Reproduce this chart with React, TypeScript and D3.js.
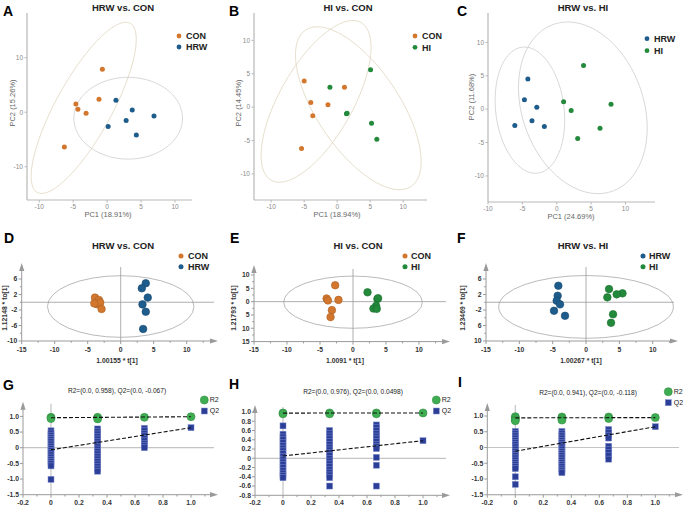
import * as d3 from 'd3';

const FONT = '"Liberation Sans", Arial, Helvetica, sans-serif';
const ORANGE = '#d2772d';
const BLUE = '#1e5c8c';
const GREEN = '#23893b';
const BEIGE = '#e3dac6';
const LGREY = '#d2d2d2';

// ---------- PCA scores (A-C) ----------
const A_CON_X = [-0.7, -4.6, -4.3, -3.1, -1.2, -6.3];
const A_CON_Y = [7.9, 1.5, 0.55, -0.2, 2.4, -6.4];
const A_HRW_X = [1.3, 3.7, 2.8, 0.15, 4.3, 6.9];
const A_HRW_Y = [2.2, 0.4, -1.5, -2.6, -4.2, -0.7];
const B_CON_X = [-5.0, -4.0, -3.7, -1.4, 1.1, -5.4];
const B_CON_Y = [3.9, 0.7, -1.3, 0.35, 3.0, -6.2];
const B_HI_X = [-1.1, 1.4, 1.5, 5.05, 5.2, 6.0];
const B_HI_Y = [3.0, -1.0, -0.9, 5.6, -2.4, -4.8];
const C_HRW_X = [-4.2, -4.7, -2.9, -3.6, -6.1, -1.8];
const C_HRW_Y = [4.5, 1.4, 0.3, -1.75, -2.45, -2.6];
const C_HI_X = [1.0, 2.1, 3.9, 7.9, 6.3, 3.05];
const C_HI_Y = [1.1, -0.2, 6.55, 0.75, -2.85, -4.4];

// ellipses: centre, first semi-axis, second semi-axis (data units)
const A_ELL_CON = [-3.45, 0.8, 6.85, 15.5, 3.6, -2.48];
const A_ELL_HRW = [3.1, -1.1, 8.0, 0, 0, 7.5];
const B_ELL_CON = [-3.2, 0.87, 6.8, 11.8, 4.8, -2.7];
const B_ELL_HI = [3.2, -0.16, 8.0, -11.7, 5.15, 3.45];
const C_ELL_HRW = [-3.9, -0.15, -0.8, 9.45, 5.0, 0];
const C_ELL_HI = [3.8, 0.2, -2.2, 12.85, 9.1, 0];

// ---------- OPLS-DA scores (D-F) ----------
const D_CON_X = [-3.9, -3.3, -3.6, -3.1, -2.9, -4.0];
const D_CON_Y = [1.2, 0.6, -0.5, -0.1, -1.75, -0.3];
const D_HRW_X = [3.8, 3.2, 4.1, 3.3, 3.8, 3.4];
const D_HRW_Y = [4.9, 3.6, 1.2, -0.55, -2.45, -6.9];
const E_CON_X = [-2.7, -4.0, -3.8, -2.2, -3.2, -3.4];
const E_CON_Y = [6.15, 1.2, 0.45, 0.65, -3.2, -5.8];
const E_HI_X = [2.2, 3.7, 3.8, 3.5, 3.1, 3.6];
const E_HI_Y = [3.5, 1.0, 1.3, -1.6, -2.6, -2.7];
const F_HRW_X = [-4.15, -4.25, -4.4, -3.9, -4.8, -3.15];
const F_HRW_Y = [4.26, 1.68, 0.39, -0.54, -2.2, -3.5];
const F_HI_X = [3.45, 5.47, 4.6, 3.2, 4.05, 3.75];
const F_HI_Y = [3.4, 2.3, 2.04, 1.26, -3.1, -5.3];
const D_ELL = [0, -1.1, 11.1, 7.95];
const E_ELL = [0, -0.2, 10.5, 9.8];
const F_ELL = [0, -1.2, 13.1, 8.1];

// ---------- permutation tests (G-I) ----------
const PERM_X = [0, 0.333, 0.667];
const G_Q2 = [
  [0.54, 0.47, 0.40, 0.33, 0.26, 0.19, 0.12, 0.05, -0.02, -0.09, -0.16, -0.23, -0.30, -0.37, -0.44, -0.51, -0.58, -1.01],
  [0.60, 0.52, 0.44, 0.36, 0.28, 0.20, 0.12, 0.04, -0.04, -0.12, -0.20, -0.28, -0.36, -0.44, -0.52, -0.60, -0.68, -0.75],
  [0.62, 0.54, 0.46, 0.38, 0.30, 0.22, 0.14, 0.07, 0.0],
];
const G_R2 = [[0.97, 0.93], [0.97, 0.92], [0.97]];
const H_Q2 = [
  [0.70, 0.52, 0.46, 0.40, 0.34, 0.28, 0.22, 0.16, 0.10, 0.04, -0.02, -0.08, -0.14, -0.20, -0.26, -0.32, -0.37, -0.42],
  [0.60, 0.54, 0.48, 0.42, 0.36, 0.30, 0.24, 0.18, 0.12, 0.06, 0.0, -0.06, -0.12, -0.18, -0.24, -0.30, -0.36, -0.42, -0.60],
  [0.72, 0.66, 0.60, 0.54, 0.48, 0.42, 0.36, 0.30, 0.25, 0.21, 0.02, -0.15, -0.60],
];
const H_R2 = [[0.98, 0.96], [0.98, 0.96], [0.98, 0.96]];
const I_Q2 = [
  [0.51, 0.44, 0.37, 0.30, 0.23, 0.16, 0.09, 0.02, -0.05, -0.12, -0.19, -0.26, -0.33, -0.40, -0.47, -0.54, -0.61, -0.67, -0.93, -1.17],
  [0.51, 0.44, 0.37, 0.30, 0.23, 0.16, 0.09, 0.02, -0.05, -0.12, -0.19, -0.26, -0.33, -0.40, -0.47, -0.54, -0.61, -0.68, -0.74, -0.80],
  [0.57, 0.48, 0.39, 0.30, 0.04, -0.06, -0.16, -0.26, -0.37],
];
const I_R2 = [[0.98, 0.94, 0.88, 0.85], [0.97, 0.92, 0.87], [0.97, 0.92]];
const ORIG_R2 = [0.99, 0.98, 0.95];
const ORIG_Q2 = [0.64, 0.38, 0.66];
const R2_INT = ['0.958', '0.976', '0.941'];
const Q2_INT = ['-0.067', '0.0498', '-0.118'];

const PERM_XTICKS = [-0.2, 0, 0.2, 0.4, 0.6, 0.8, 1.0];
const PERM_XLABELS = ['-0.2', '0', '0.2', '0.4', '0.6', '0.8', '1.0'];
const GI_YTICKS = [1.0, 0.5, 0, -0.5, -1.0, -1.5];
const GI_YLABELS = ['1.0', '0.5', '0', '-0.5', '-1.0', '-1.5'];
const H_YTICKS = [1.0, 0.8, 0.6, 0.4, 0.2, 0, -0.2, -0.4, -0.6, -0.8];
const H_YLABELS = ['1.0', '0.8', '0.6', '0.4', '0.2', '0', '-0.2', '-0.4', '-0.6', '-0.8'];

function ellPath(e: number[], x: any, y: any) {
  const [cx, cy, ax, ay, bx, by] = e;
  const ts = d3.range(0, 2 * Math.PI, Math.PI / 72);
  return d3
    .line<number>()
    .x((t) => x(cx + ax * Math.cos(t) + bx * Math.sin(t)))
    .y((t) => y(cy + ay * Math.cos(t) + by * Math.sin(t)))
    .curve(d3.curveLinearClosed)(ts) || '';
}

const PCA = [
  {
    letter: 'A', letterX: 3, title: 'HRW vs. CON', titleX: 123,
    xDomain: [-11.8, 12.5], xRange: [27, 192], yDomain: [-16.1, 18.2], yRange: [200, 13],
    xTicks: [-10, -5, 0, 5, 10], yTicks: [-10, 0, 10],
    xLabel: 'PC1 (18.91%)', xLabelX: 108, yLabel: 'PC2 (15.26%)', yLabelX: 12, yLabelY: 103,
    legendX: 179, legendY: 36, legendGap: 11,
    groups: [
      { name: 'CON', xs: A_CON_X, ys: A_CON_Y, color: ORANGE, ell: A_ELL_CON, ellColor: BEIGE },
      { name: 'HRW', xs: A_HRW_X, ys: A_HRW_Y, color: BLUE, ell: A_ELL_HRW, ellColor: LGREY },
    ],
  },
  {
    letter: 'B', letterX: 229, title: 'HI vs. CON', titleX: 348,
    xDomain: [-12.6, 13.6], xRange: [254, 427], yDomain: [-13.9, 14.1], yRange: [200, 13],
    xTicks: [-10, -5, 0, 5, 10], yTicks: [-10, -5, 0, 5, 10],
    xLabel: 'PC1 (18.94%)', xLabelX: 337, yLabel: 'PC2 (14.45%)', yLabelX: 238, yLabelY: 103,
    legendX: 415, legendY: 36, legendGap: 11.3,
    groups: [
      { name: 'CON', xs: B_CON_X, ys: B_CON_Y, color: ORANGE, ell: B_ELL_CON, ellColor: BEIGE },
      { name: 'HI', xs: B_HI_X, ys: B_HI_Y, color: GREEN, ell: B_ELL_HI, ellColor: BEIGE },
    ],
  },
  {
    letter: 'C', letterX: 457, title: 'HRW vs. HI', titleX: 583,
    xDomain: [-10, 14.3], xRange: [488, 655], yDomain: [-13.9, 14.4], yRange: [202, 13],
    xTicks: [-10, -5, 0, 5, 10], yTicks: [-10, -5, 0, 5, 10],
    xLabel: 'PC1 (24.69%)', xLabelX: 571, yLabel: 'PC2 (11.68%)', yLabelX: 471, yLabelY: 97,
    legendX: 647, legendY: 38.7, legendGap: 12,
    groups: [
      { name: 'HRW', xs: C_HRW_X, ys: C_HRW_Y, color: BLUE, ell: C_ELL_HRW, ellColor: LGREY },
      { name: 'HI', xs: C_HI_X, ys: C_HI_Y, color: GREEN, ell: C_ELL_HI, ellColor: LGREY },
    ],
  },
];

function PcaPanel({ c }: { c: any }) {
  const x = d3.scaleLinear().domain(c.xDomain).range(c.xRange);
  const y = d3.scaleLinear().domain(c.yDomain).range(c.yRange);
  const [xl, xr] = c.xRange;
  const [yb, yt] = c.yRange;
  const ax = '#b8b8b8';
  return (
    <g>
      <text x={c.letterX} y={16} fontSize={14} fontWeight="bold">{c.letter}</text>
      <text x={c.titleX} y={10.5} textAnchor="middle" fontSize={9.5} fontWeight="bold" fill="#222">{c.title}</text>
      {c.groups.map((g: any) => (
        <path key={g.name} d={ellPath(g.ell, x, y)} fill="none" stroke={g.ellColor} strokeWidth={0.9} />
      ))}
      <line x1={xl} x2={xl} y1={yt} y2={yb} stroke={ax} strokeWidth={1.2} />
      <line x1={xl} x2={xr} y1={yb} y2={yb} stroke={ax} strokeWidth={1.2} />
      {c.xTicks.map((t: number) => (
        <g key={'x' + t}>
          <line x1={x(t)} x2={x(t)} y1={yb} y2={yb + 2.5} stroke={ax} />
          <text x={x(t)} y={yb + 9} textAnchor="middle" fontSize={6.5} fill="#8a8a8a">{t}</text>
        </g>
      ))}
      {c.yTicks.map((t: number) => (
        <g key={'y' + t}>
          <line x1={xl - 2.5} x2={xl} y1={y(t)} y2={y(t)} stroke={ax} />
          <text x={xl - 4} y={y(t) + 2.3} textAnchor="end" fontSize={6.5} fill="#8a8a8a">{t}</text>
        </g>
      ))}
      <text x={c.xLabelX} y={yb + 17} textAnchor="middle" fontSize={7.5} fill="#666">{c.xLabel}</text>
      <text transform={`translate(${c.yLabelX},${c.yLabelY}) rotate(-90)`} textAnchor="middle" dy={2.5} fontSize={7.5} fill="#666">{c.yLabel}</text>
      {c.groups.map((g: any) =>
        g.xs.map((v: number, i: number) => (
          <circle key={g.name + i} cx={x(v)} cy={y(g.ys[i])} r={2.5} fill={g.color} />
        ))
      )}
      {c.groups.map((g: any, i: number) => (
        <g key={'lg' + g.name}>
          <circle cx={c.legendX} cy={c.legendY + i * c.legendGap} r={2.4} fill={g.color} />
          <text x={c.legendX + 7} y={c.legendY + i * c.legendGap + 3.3} fontSize={9} fontWeight="bold" fill="#222">{g.name}</text>
        </g>
      ))}
    </g>
  );
}

const OPLS = [
  {
    letter: 'D', letterX: 4, title: 'HRW vs. CON', titleX: 123,
    xRange: [21.7, 186.7], axisRight: 218, yDomain: [-10, 6], yRange: [341, 279], axisTop: 263,
    yTicks: [6, 2, -2, -6, -10], yLabels: ['6', '2', '-2', '-6', '-10'], yMinor: [4, 0, -4, -8],
    xLabel: '1.00155 * t[1]', xLabelX: 117, yLabel: '1.12148 * to[1]', yLabelX: 5,
    ell: D_ELL, legendX: 181, legendTextX: 188,
    groups: [
      { name: 'CON', xs: D_CON_X, ys: D_CON_Y, color: ORANGE },
      { name: 'HRW', xs: D_HRW_X, ys: D_HRW_Y, color: BLUE },
    ],
  },
  {
    letter: 'E', letterX: 230, title: 'HI vs. CON', titleX: 358,
    xRange: [254, 419], axisRight: 450, yDomain: [-15, 10], yRange: [341.6, 275], axisTop: 265,
    yTicks: [10, 5, 0, -5, -10, -15], yLabels: ['10', '5', '0', '5', '10', '15'], yMinor: [7.5, 2.5, -2.5, -7.5, -12.5],
    xLabel: '1.0091 * t[1]', xLabelX: 345, yLabel: '1.21793 * to[1]', yLabelX: 234,
    ell: E_ELL, legendX: 405, legendTextX: 411,
    groups: [
      { name: 'CON', xs: E_CON_X, ys: E_CON_Y, color: ORANGE },
      { name: 'HI', xs: E_HI_X, ys: E_HI_Y, color: GREEN },
    ],
  },
  {
    letter: 'F', letterX: 457, title: 'HRW vs. HI', titleX: 583,
    xRange: [486, 652.7], axisRight: 678, yDomain: [-10, 6], yRange: [341, 279], axisTop: 263,
    yTicks: [6, 2, -2, -6, -10], yLabels: ['6', '2', '-2', '6', '10'], yMinor: [4, 0, -4, -8],
    xLabel: '1.00267 * t[1]', xLabelX: 581, yLabel: '1.23469 * to[1]', yLabelX: 463,
    ell: F_ELL, legendX: 643, legendTextX: 649,
    groups: [
      { name: 'HRW', xs: F_HRW_X, ys: F_HRW_Y, color: BLUE },
      { name: 'HI', xs: F_HI_X, ys: F_HI_Y, color: GREEN },
    ],
  },
];

const OPLS_XTICKS = [-15, -10, -5, 0, 5, 10];
const OPLS_XMINOR = [-12.5, -7.5, -2.5, 2.5, 7.5, 12.5];

function Arrows({ xl, yb, right, top, color }: any) {
  return (
    <g fill={color} stroke="none">
      <path d={`M${right},${yb} L${right - 8},${yb - 2.6} L${right - 8},${yb + 2.6} Z`} />
      <path d={`M${xl},${top} L${xl - 2.6},${top + 8} L${xl + 2.6},${top + 8} Z`} />
    </g>
  );
}

function darker(col: string) {
  return d3.color(col)!.darker(0.6).formatHex();
}

function OplsPanel({ c }: { c: any }) {
  const x = d3.scaleLinear().domain([-15, 10]).range(c.xRange);
  const y = d3.scaleLinear().domain(c.yDomain).range(c.yRange);
  const xl = c.xRange[0];
  const yb = c.yRange[0];
  const ax = '#9a9a9a';
  const [ecx, ecy, erx, ery] = c.ell;
  return (
    <g>
      <text x={c.letterX} y={243} fontSize={14} fontWeight="bold">{c.letter}</text>
      <text x={c.titleX} y={248.5} textAnchor="middle" fontSize={9.5} fontWeight="bold" fill="#222">{c.title}</text>
      <ellipse cx={x(ecx)} cy={y(ecy)} rx={x(erx) - x(0)} ry={y(0) - y(ery)} fill="none" stroke="#a8a8a8" strokeWidth={0.8} />
      <line x1={xl} x2={c.axisRight - 4} y1={y(0)} y2={y(0)} stroke={ax} strokeWidth={0.8} />
      <line x1={x(0)} x2={x(0)} y1={c.axisTop + 4} y2={yb} stroke={ax} strokeWidth={0.8} />
      <line x1={xl} x2={c.axisRight - 4} y1={yb} y2={yb} stroke={ax} strokeWidth={1} />
      <line x1={xl} x2={xl} y1={c.axisTop + 4} y2={yb} stroke={ax} strokeWidth={1} />
      <Arrows xl={xl} yb={yb} right={c.axisRight} top={c.axisTop} color={ax} />
      {OPLS_XTICKS.map((t) => (
        <g key={'x' + t}>
          <line x1={x(t)} x2={x(t)} y1={yb} y2={yb + 3} stroke={ax} />
          <text x={x(t)} y={yb + 10.5} textAnchor="middle" fontSize={6.8} fontWeight="bold" fill="#333">{t}</text>
        </g>
      ))}
      {OPLS_XMINOR.map((t) => (
        <line key={'xm' + t} x1={x(t)} x2={x(t)} y1={yb} y2={yb + 1.8} stroke={ax} />
      ))}
      {c.yTicks.map((t: number, i: number) => (
        <g key={'y' + t}>
          <line x1={xl - 3} x2={xl} y1={y(t)} y2={y(t)} stroke={ax} />
          <text x={xl - 4.5} y={y(t) + 2.4} textAnchor="end" fontSize={6.8} fontWeight="bold" fill="#333">{c.yLabels[i]}</text>
        </g>
      ))}
      {c.yMinor.map((t: number) => (
        <line key={'ym' + t} x1={xl - 1.8} x2={xl} y1={y(t)} y2={y(t)} stroke={ax} />
      ))}
      <text x={c.xLabelX} y={362.5} textAnchor="middle" fontSize={6.8} fontWeight="bold" fill="#333">{c.xLabel}</text>
      <text transform={`translate(${c.yLabelX},308) rotate(-90)`} textAnchor="middle" dy={2.4} fontSize={6.8} fontWeight="bold" fill="#333">{c.yLabel}</text>
      {c.groups.map((g: any) =>
        g.xs.map((v: number, i: number) => (
          <circle key={g.name + i} cx={x(v)} cy={y(g.ys[i])} r={3.8} fill={g.color} stroke={darker(g.color)} strokeWidth={0.6} />
        ))
      )}
      {c.groups.map((g: any, i: number) => (
        <g key={'lg' + g.name}>
          <circle cx={c.legendX} cy={256 + i * 10.7} r={2.5} fill={g.color} />
          <text x={c.legendTextX} y={259.3 + i * 10.7} fontSize={9} fontWeight="bold" fill="#222">{g.name}</text>
        </g>
      ))}
    </g>
  );
}

const PERM = [
  {
    letter: 'G', letterX: 3, letterY: 390, titleX: 117, titleY: 392.5,
    xRange: [23, 191], axisRight: 218, yDomain: [-1.5, 1.0], yRange: [494.7, 416.4], axisTop: 401.7,
    yTicks: GI_YTICKS, yLabels: GI_YLABELS, q2: G_Q2, r2: G_R2, legendX: 204.3, legendY: 400,
  },
  {
    letter: 'H', letterX: 229, letterY: 388.5, titleX: 353, titleY: 393.5,
    xRange: [255, 423], axisRight: 450, yDomain: [-0.8, 1.0], yRange: [495.3, 412], axisTop: 405,
    yTicks: H_YTICKS, yLabels: H_YLABELS, q2: H_Q2, r2: H_R2, legendX: 436.3, legendY: 400,
  },
  {
    letter: 'I', letterX: 458, letterY: 387, titleX: 588, titleY: 394.5,
    xRange: [487.3, 655.3], axisRight: 683, yDomain: [-1.5, 1.0], yRange: [494.75, 416], axisTop: 403,
    yTicks: GI_YTICKS, yLabels: GI_YLABELS, q2: I_Q2, r2: I_R2, legendX: 668.3, legendY: 391.7,
  },
];

const PERM_XMINOR = [-0.1, 0.1, 0.3, 0.5, 0.7, 0.9, 1.1];
const R2_FILL = '#3fae52';
const R2_STROKE = '#2f8c40';
const Q2_FILL = '#2c3f98';
const Q2_STROKE = '#7d8bcc';

function PermPanel({ c, k }: { c: any; k: number }) {
  const x = d3.scaleLinear().domain([-0.2, 1.0]).range(c.xRange);
  const y = d3.scaleLinear().domain(c.yDomain).range(c.yRange);
  const xl = c.xRange[0];
  const yb = c.yRange[0];
  const ax = '#9a9a9a';
  const s = 6;
  const r2Int = +R2_INT[k];
  const q2Int = +Q2_INT[k];
  return (
    <g>
      <text x={c.letterX} y={c.letterY} fontSize={14} fontWeight="bold">{c.letter}</text>
      <text x={c.titleX} y={c.titleY} textAnchor="middle" fontSize={6.6} fill="#222">
        {`R2=(0.0, ${R2_INT[k]}), Q2=(0.0, ${Q2_INT[k]})`}
      </text>
      <line x1={xl} x2={c.axisRight - 4} y1={y(0)} y2={y(0)} stroke="#c4c4c4" strokeWidth={1.2} />
      <line x1={x(0)} x2={x(0)} y1={c.axisTop + 2} y2={yb} stroke="#c4c4c4" strokeWidth={1.2} />
      <line x1={xl} x2={c.axisRight - 4} y1={yb} y2={yb} stroke={ax} strokeWidth={1} />
      <line x1={xl} x2={xl} y1={c.axisTop + 4} y2={yb} stroke={ax} strokeWidth={1} />
      <Arrows xl={xl} yb={yb} right={c.axisRight} top={c.axisTop} color={ax} />
      {PERM_XTICKS.map((t, i) => (
        <g key={'x' + t}>
          <line x1={x(t)} x2={x(t)} y1={yb} y2={yb + 3} stroke={ax} />
          <text x={x(t)} y={yb + 10} textAnchor="middle" fontSize={6.8} fontWeight="bold" fill="#333">{PERM_XLABELS[i]}</text>
        </g>
      ))}
      {PERM_XMINOR.map((t) => (
        <line key={'xm' + t} x1={x(t)} x2={x(t)} y1={yb} y2={yb + 1.8} stroke={ax} />
      ))}
      {c.yTicks.map((t: number, i: number) => (
        <g key={'y' + t}>
          <line x1={xl - 3} x2={xl} y1={y(t)} y2={y(t)} stroke={ax} />
          <text x={xl - 4} y={y(t) + 2.4} textAnchor="end" fontSize={6.8} fontWeight="bold" fill="#333">{c.yLabels[i]}</text>
        </g>
      ))}
      {c.q2.map((col: number[], j: number) =>
        col.map((v: number, i: number) => (
          <rect key={`q${j}-${i}`} x={x(PERM_X[j]) - s / 2} y={y(v) - s / 2} width={s} height={s} fill={Q2_FILL} stroke={Q2_STROKE} strokeWidth={0.5} />
        ))
      )}
      <rect x={x(1) - s / 2} y={y(ORIG_Q2[k]) - s / 2} width={s} height={s} fill={Q2_FILL} stroke={Q2_STROKE} strokeWidth={0.5} />
      {c.r2.map((col: number[], j: number) =>
        col.map((v: number, i: number) => (
          <circle key={`r${j}-${i}`} cx={x(PERM_X[j])} cy={y(v)} r={4} fill={R2_FILL} stroke={R2_STROKE} strokeWidth={0.6} />
        ))
      )}
      <circle cx={x(1)} cy={y(ORIG_R2[k])} r={4} fill={R2_FILL} stroke={R2_STROKE} strokeWidth={0.6} />
      <line x1={x(0)} x2={x(1)} y1={y(r2Int)} y2={y(ORIG_R2[k])} stroke="#111" strokeWidth={1.1} strokeDasharray="4,2" />
      <line x1={x(0)} x2={x(1)} y1={y(q2Int)} y2={y(ORIG_Q2[k])} stroke="#111" strokeWidth={1.1} strokeDasharray="4,2" />
      <circle cx={c.legendX} cy={c.legendY} r={4} fill={R2_FILL} stroke={R2_STROKE} strokeWidth={0.6} />
      <text x={c.legendX + 5.5} y={c.legendY + 2.4} fontSize={7} fill="#222">R2</text>
      <rect x={c.legendX - 3} y={c.legendY + 8} width={6} height={6} fill={Q2_FILL} stroke={Q2_STROKE} strokeWidth={0.5} />
      <text x={c.legendX + 5.5} y={c.legendY + 13.4} fontSize={7} fill="#222">Q2</text>
    </g>
  );
}

export default function App() {
  return (
    <svg
      width={685}
      height={507}
      viewBox="0 0 685 507"
      style={{ position: 'absolute', left: 0, top: 0, background: '#fff', fontFamily: FONT }}
    >
      {PCA.map((c) => (
        <PcaPanel key={c.letter} c={c} />
      ))}
      {OPLS.map((c) => (
        <OplsPanel key={c.letter} c={c} />
      ))}
      {PERM.map((c, k) => (
        <PermPanel key={c.letter} c={c} k={k} />
      ))}
    </svg>
  );
}
